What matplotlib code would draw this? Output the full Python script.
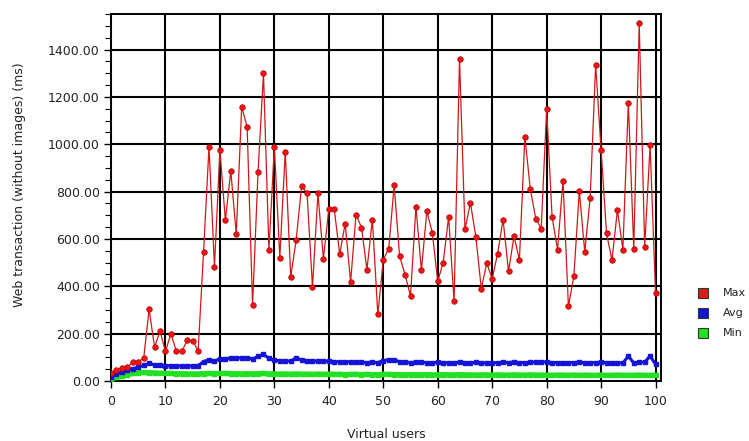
import numpy as np
import matplotlib
matplotlib.use("Agg")
import matplotlib.pyplot as plt
from matplotlib.ticker import MultipleLocator, FormatStrFormatter
from matplotlib.lines import Line2D

users = list(range(0, 101))

max_ms = [32, 45, 57, 58, 80, 82, 96, 302, 143, 211,
          125, 200, 125, 125, 172, 170, 127, 545, 990, 482,
          976, 679, 887, 620, 1159, 1072, 322, 881, 1300, 555,
          990, 521, 969, 439, 595, 823, 795, 397, 792, 517,
          726, 726, 535, 665, 418, 703, 648, 470, 682, 281,
          512, 559, 827, 527, 449, 359, 736, 467, 717, 627,
          421, 500, 693, 336, 1361, 640, 753, 609, 390, 498,
          432, 538, 682, 463, 611, 512, 1032, 810, 686, 644,
          1148, 693, 555, 846, 315, 443, 803, 545, 775, 1336,
          976, 623, 510, 722, 555, 1176, 559, 1512, 566, 997,
          371]

avg_ms = [16, 28, 40, 46, 52, 58, 66, 74, 68, 66,
          64, 65, 63, 64, 63, 64, 65, 82, 90, 84,
          94, 95, 96, 97, 98, 99, 92, 104, 112, 96,
          88, 86, 85, 84, 98, 88, 86, 84, 85, 83,
          84, 82, 81, 80, 82, 80, 79, 78, 79, 78,
          86, 90, 88, 82, 80, 78, 80, 79, 78, 77,
          79, 76, 78, 77, 80, 78, 77, 79, 77, 76,
          78, 77, 79, 78, 80, 78, 77, 79, 80, 81,
          80, 78, 77, 76, 77, 78, 79, 78, 77, 78,
          79, 77, 76, 77, 76, 105, 76, 80, 79, 106,
          70]

min_ms = [10, 15, 21, 27, 32, 35, 36, 35, 34, 33,
          32, 32, 31, 31, 30, 30, 30, 31, 32, 31,
          32, 32, 31, 31, 30, 31, 30, 31, 32, 30,
          30, 29, 30, 29, 30, 29, 29, 28, 29, 28,
          29, 28, 28, 27, 28, 28, 27, 28, 27, 27,
          28, 28, 27, 27, 26, 27, 27, 26, 27, 26,
          26, 27, 26, 26, 27, 26, 26, 25, 26, 26,
          25, 26, 25, 25, 26, 25, 25, 26, 25, 25,
          25, 24, 25, 25, 24, 25, 24, 25, 24, 24,
          25, 24, 24, 25, 24, 24, 24, 25, 24, 24,
          24]

series_names = ["Max", "Avg", "Min"]
colors = ["#e81616", "#1414d8", "#22e022"]

W, H = 749, 441
fig = plt.figure(figsize=(W / 100, H / 100), dpi=100)
ax = fig.add_axes([111 / W, 1 - 381 / H, (661 - 111) / W, (381 - 14) / H])

ax.plot(users, min_ms, color=colors[2], lw=3.8, marker="s", ms=2.5, zorder=3)
ax.plot(users, avg_ms, color=colors[1], lw=2.2, marker="s", ms=3, zorder=4)
ax.plot(users, max_ms, color="#d01818", lw=0.9, marker="o", ms=4,
        markerfacecolor=colors[0], markeredgecolor="#c00000",
        markeredgewidth=0.5, zorder=5)

ax.set_xlim(0, 101)
ax.set_ylim(0, 1550)
ax.xaxis.set_major_locator(MultipleLocator(10))
ax.yaxis.set_major_locator(MultipleLocator(200))
ax.yaxis.set_minor_locator(MultipleLocator(50))
ax.yaxis.set_major_formatter(FormatStrFormatter("%.2f"))
ax.grid(True, which="major", color="black", lw=1.5)
ax.set_axisbelow(True)
for s in ax.spines.values():
    s.set_color("black")
    s.set_linewidth(1.4)
ax.tick_params(axis="both", which="major", length=5, width=1, colors="black",
               labelsize=9, labelcolor="#222222")
ax.tick_params(axis="y", which="minor", length=4, width=0.8, colors="black")
ax.tick_params(axis="y", pad=3)
ax.tick_params(axis="x", pad=5)

fig.text(20 / W, 1 - 185 / H, "Web transaction (without images) (ms)",
         rotation=90, ha="center", va="center", fontsize=9, color="#222222")
fig.text(386 / W, 1 - 435 / H, "Virtual users", ha="center", va="center",
         fontsize=9, color="#222222")

# legend drawn by hand on the right side
for i, (name, c) in enumerate(zip(series_names, colors)):
    yy = 1 - (293 + 20 * i) / H
    fig.add_artist(Line2D([703 / W], [yy], marker="s", ms=7, color=c,
                          markeredgecolor="#333333", markeredgewidth=0.8,
                          linestyle="none"))
    fig.text(723 / W, yy, name, ha="left", va="center", fontsize=8,
             color="#222222")

fig.savefig("out.png", dpi=100)
